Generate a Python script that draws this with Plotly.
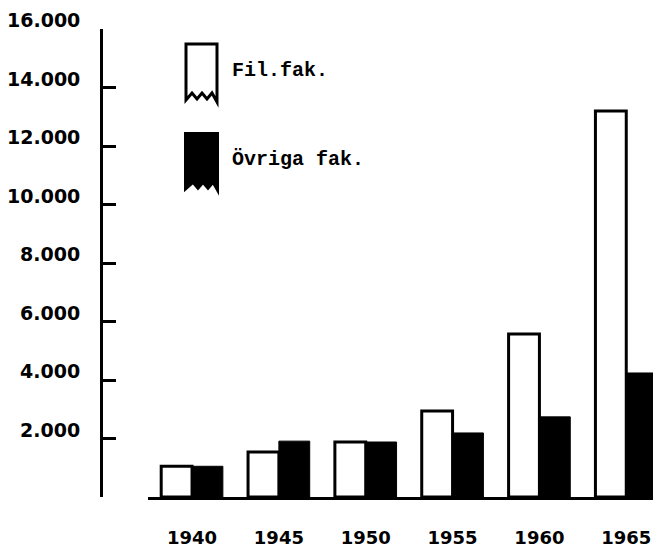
import plotly.graph_objects as go

years = ["1940", "1945", "1950", "1955", "1960", "1965"]
fil_fak = [1050, 1540, 1880, 2940, 5570, 13200]
ovriga_fak = [1050, 1910, 1880, 2190, 2740, 4240]
series_names = ["Fil.fak.", "Övriga fak."]
y_ticks = [0, 2000, 4000, 6000, 8000, 10000, 12000, 14000, 16000]
y_tick_labels = ["2.000", "4.000", "6.000", "8.000", "10.000", "12.000", "14.000", "16.000"]

# page body has an 8px margin; design in reference pixels, shift by OFF
OFF = 8
W, H = 661 - OFF, 549 - OFF
ML, MR, MT, MB = 101 - OFF, 0, 29 - OFF, H - (497 - OFF)
PW, PH = W - ML - MR, H - MT - MB

def px(x):
    return (x - OFF - ML) / PW

def py(y):
    return (H - MB - (y - OFF)) / PH

fig = go.Figure()
fig.add_trace(go.Bar(x=list(range(len(years))), y=fil_fak, name=series_names[0],
                     marker=dict(color="white", line=dict(color="black", width=3)),
                     showlegend=False))
fig.add_trace(go.Bar(x=list(range(len(years))), y=ovriga_fak, name=series_names[1],
                     marker=dict(color="black", line=dict(color="black", width=1)),
                     showlegend=False))

tick_font = dict(family="DejaVu Sans", size=19, color="black", weight="bold")

fig.update_layout(
    width=W, height=H,
    margin=dict(l=ML, r=MR, t=MT, b=MB, pad=0),
    paper_bgcolor="white", plot_bgcolor="white",
    barmode="group", bargap=0.29, bargroupgap=0,
    xaxis=dict(domain=[px(148), 1], range=[-0.507, 5.40],
               tickvals=list(range(len(years))), ticktext=years,
               showline=True, linecolor="black", linewidth=3,
               ticks="", showgrid=False, zeroline=False,
               tickfont=dict(family="DejaVu Sans", size=18, color="black", weight="bold"),
               ticklabelstandoff=22),
    yaxis=dict(anchor="free", position=0, range=[0, 16000],
               tickvals=y_ticks, showticklabels=False,
               showline=True, linecolor="black", linewidth=3,
               ticks="inside", ticklen=13, tickwidth=3, tickcolor="black",
               showgrid=False, zeroline=False),
)

for val, lab in zip(y_ticks[1:], y_tick_labels):
    fig.add_annotation(x=0, xref="paper", y=val, yref="y", text=lab,
                       showarrow=False, xanchor="right", yanchor="middle",
                       xshift=-19, yshift=9, font=tick_font)

# Legend glyphs (torn-paper boxes)
def torn_box(x0, x1, top, bottom):
    teeth = [(x1, bottom), (x1 - 5, bottom - 9), (x1 - 10, bottom - 3),
             (x1 - 15, bottom - 9), (x1 - 20, bottom - 3), (x1 - 25, bottom - 9),
             (x0, bottom - 2)]
    pts = [(x0, top), (x1, top)] + teeth
    path = "M " + " L ".join(f"{px(a):.5f},{py(b):.5f}" for a, b in pts) + " Z"
    return path

fig.add_shape(type="path", path=torn_box(186, 217, 44, 102), xref="paper", yref="paper",
              fillcolor="white", line=dict(color="black", width=3))
fig.add_shape(type="path", path=torn_box(185, 218, 133, 192), xref="paper", yref="paper",
              fillcolor="black", line=dict(color="black", width=2))

leg_font = dict(family="Liberation Mono", size=20, color="black", weight="bold")
fig.add_annotation(x=px(230), y=py(70), xref="paper", yref="paper", text=series_names[0],
                   showarrow=False, xanchor="left", yanchor="middle", font=leg_font)
fig.add_annotation(x=px(230), y=py(159), xref="paper", yref="paper", text=series_names[1],
                   showarrow=False, xanchor="left", yanchor="middle", font=leg_font)

fig.write_html("out.html")
